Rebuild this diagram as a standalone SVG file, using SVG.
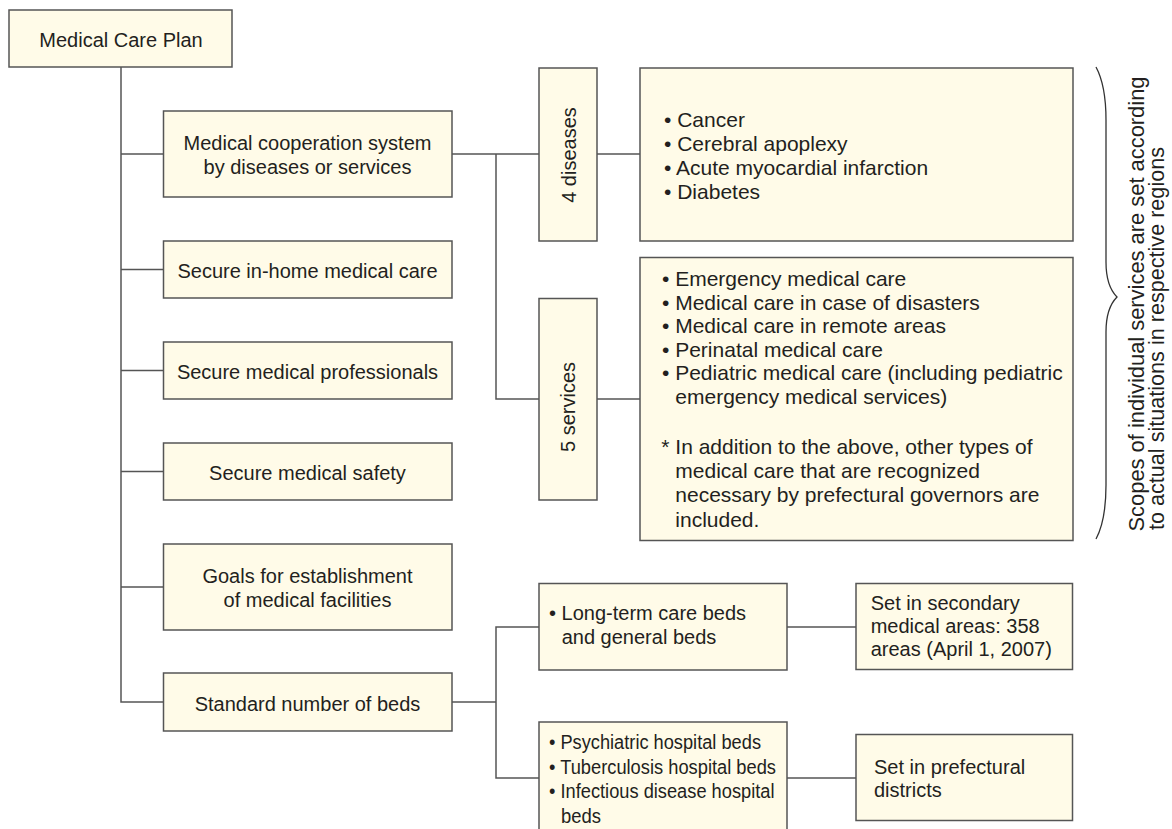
<svg xmlns="http://www.w3.org/2000/svg" width="1172" height="829" viewBox="0 0 1172 829">
<style>
  .box { fill: #fffbe8; stroke: #555555; stroke-width: 1.5; }
  .ln { fill: none; stroke: #555555; stroke-width: 1.5; }
  .brace { fill: none; stroke: #333333; stroke-width: 1.3; }
  text { font-family: "Liberation Sans", Arial, sans-serif; fill: #231f20; }
  .lbl { font-size: 20px; text-anchor: middle; }
  .lst { font-size: 21px; }
  .sm { font-size: 20px; }
  .side { font-size: 21.7px; }
</style>
<rect width="1172" height="829" fill="#ffffff"/>
<g id="connectors">
  <path class="ln" d="M121,67 V702 H163.5"/>
  <path class="ln" d="M121,154 H163.5"/>
  <path class="ln" d="M121,269.5 H163.5"/>
  <path class="ln" d="M121,370.5 H163.5"/>
  <path class="ln" d="M121,471.5 H163.5"/>
  <path class="ln" d="M121,587 H163.5"/>
  <path class="ln" d="M452,154 H539"/>
  <path class="ln" d="M496,154 V399 H539"/>
  <path class="ln" d="M597,154 H640"/>
  <path class="ln" d="M597,399 H640"/>
  <path class="ln" d="M452,702 H496"/>
  <path class="ln" d="M539,627 H496 V778 H539"/>
  <path class="ln" d="M787,627 H856"/>
  <path class="ln" d="M787,778 H856"/>
</g>
<g id="n-plan">
  <rect class="box" x="9" y="10" width="223" height="57"/>
  <text class="lbl" x="121" y="47">Medical Care Plan</text>
</g>
<g id="n-coop">
  <rect class="box" x="163.5" y="111" width="288.5" height="86"/>
  <text class="lbl" x="307.5" y="149.5">Medical cooperation system</text>
  <text class="lbl" x="307.5" y="173.5">by diseases or services</text>
</g>
<g id="n-inhome">
  <rect class="box" x="163.5" y="241" width="288.5" height="57"/>
  <text class="lbl" x="307.5" y="278">Secure in-home medical care</text>
</g>
<g id="n-prof">
  <rect class="box" x="163.5" y="342" width="288.5" height="57"/>
  <text class="lbl" x="307.5" y="379">Secure medical professionals</text>
</g>
<g id="n-safety">
  <rect class="box" x="163.5" y="443" width="288.5" height="57"/>
  <text class="lbl" x="307.5" y="480">Secure medical safety</text>
</g>
<g id="n-goals">
  <rect class="box" x="163.5" y="544" width="288.5" height="86"/>
  <text class="lbl" x="307.5" y="582.5">Goals for establishment</text>
  <text class="lbl" x="307.5" y="607">of medical facilities</text>
</g>
<g id="n-beds">
  <rect class="box" x="163.5" y="673" width="288.5" height="58"/>
  <text class="lbl" x="307.5" y="710.5">Standard number of beds</text>
</g>
<g id="n-4diseases">
  <rect class="box" x="539" y="68" width="58" height="173"/>
  <text class="lbl" transform="translate(575.5,155) rotate(-90)" x="0" y="0">4 diseases</text>
</g>
<g id="n-5services">
  <rect class="box" x="539" y="298.5" width="58" height="201.5"/>
  <text class="lbl" transform="translate(575,407) rotate(-90)" x="0" y="0">5 services</text>
</g>
<g id="n-diseaselist">
  <rect class="box" x="640" y="68" width="433" height="173"/>
  <text class="lst" x="664" y="126.5">• Cancer</text>
  <text class="lst" x="664" y="150.5">• Cerebral apoplexy</text>
  <text class="lst" x="664" y="174.5">• Acute myocardial infarction</text>
  <text class="lst" x="664" y="198.5">• Diabetes</text>
</g>
<g id="n-servicelist">
  <rect class="box" x="640" y="257.5" width="433" height="283"/>
  <text class="lst" x="662" y="286">• Emergency medical care</text>
  <text class="lst" x="662" y="309.5">• Medical care in case of disasters</text>
  <text class="lst" x="662" y="333">• Medical care in remote areas</text>
  <text class="lst" x="662" y="356.5">• Perinatal medical care</text>
  <text class="lst" x="662" y="380">• Pediatric medical care (including pediatric</text>
  <text class="lst" x="675.3" y="404">emergency medical services)</text>
  <text class="lst" x="661.3" y="454">* In addition to the above, other types of</text>
  <text class="lst" x="675.3" y="478.3">medical care that are recognized</text>
  <text class="lst" x="675.3" y="502.3">necessary by prefectural governors are</text>
  <text class="lst" x="675.3" y="526.5">included.</text>
</g>
<g id="n-longterm">
  <rect class="box" x="539" y="583.5" width="248" height="86.5"/>
  <text class="sm" x="549" y="620">• Long-term care beds</text>
  <text class="sm" x="561.7" y="644">and general beds</text>
</g>
<g id="n-psych">
  <rect class="box" x="539" y="722" width="248" height="130"/>
  <text class="sm" x="549" y="749.3" textLength="212" lengthAdjust="spacingAndGlyphs">• Psychiatric hospital beds</text>
  <text class="sm" x="549" y="773.5" textLength="227" lengthAdjust="spacingAndGlyphs">• Tuberculosis hospital beds</text>
  <text class="sm" x="549" y="798" textLength="225.5" lengthAdjust="spacingAndGlyphs">• Infectious disease hospital</text>
  <text class="sm" x="561" y="822.5" textLength="40" lengthAdjust="spacingAndGlyphs">beds</text>
</g>
<g id="n-secondary">
  <rect class="box" x="856" y="583.5" width="216.5" height="86"/>
  <text class="sm" x="870.7" y="610">Set in secondary</text>
  <text class="sm" x="870.7" y="633">medical areas: 358</text>
  <text class="sm" x="870.7" y="656">areas (April 1, 2007)</text>
</g>
<g id="n-prefectural">
  <rect class="box" x="856" y="734.5" width="216.5" height="86"/>
  <text class="sm" x="874" y="774">Set in prefectural</text>
  <text class="sm" x="874" y="797">districts</text>
</g>
<g id="n-scope">
  <path class="brace" d="M1096,67 C1103,80 1106,98 1106,120 L1106,262 C1106,280 1110,290 1117,297 C1110,304 1106,314 1106,332 L1106,485 C1106,507 1103,526 1096,539"/>
  <text class="side" transform="translate(1144,531.5) rotate(-90)" x="0" y="0" textLength="455" lengthAdjust="spacingAndGlyphs">Scopes of individual services are set according</text>
  <text class="side" transform="translate(1163.5,530) rotate(-90)" x="0" y="0" textLength="383" lengthAdjust="spacingAndGlyphs">to actual situations in respective regions</text>
</g>
</svg>
